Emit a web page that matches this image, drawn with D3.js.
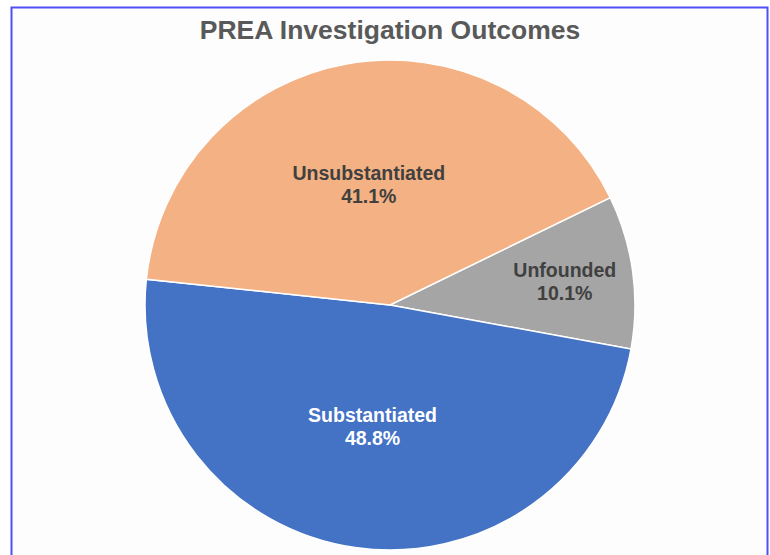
<!DOCTYPE html>
<html>
<head>
<meta charset="utf-8">
<script src="https://cdn.jsdelivr.net/npm/d3@7"></script>
<style>
  body { margin: 0; background: #fff; }
  .chart { width: 770px; height: 555px; }
</style>
</head>
<body>
<div class="chart"></div>
<script>
// PREA investigation outcomes, pie chart

var categories = ["Unfounded", "Substantiated", "Unsubstantiated"];
var values     = [10.1, 48.8, 41.1];
var colors     = ["#A5A5A5", "#4472C4", "#F4B183"];

var width = 770, height = 555;
var cx = 390, cy = 305, radius = 245;

// where each label sits, as a share of the radius
var labelPos = { "Unfounded": 0.72, "Substantiated": 0.5, "Unsubstantiated": 0.5 };
var labelColor = { "Unfounded": "#404040", "Substantiated": "#ffffff", "Unsubstantiated": "#404040" };

var svg = d3.select(".chart").append("svg")
    .attr("width", width)
    .attr("height", height);

// frame
svg.append("rect")
    .attr("x", 11.5).attr("y", 7.5)
    .attr("width", 756).attr("height", 560)
    .attr("fill", "#fdfdfd")
    .attr("stroke", "#4f4ff5")
    .attr("stroke-width", 2);

svg.append("text")
    .attr("x", cx)
    .attr("y", 39)
    .attr("text-anchor", "middle")
    .attr("font-family", "Arial, 'Liberation Sans', sans-serif")
    .attr("font-weight", "bold")
    .attr("font-size", "26.5px")
    .attr("fill", "#595959")
    .text("PREA Investigation Outcomes");

var data = categories.map(function(c, i) { return { name: c, value: values[i], color: colors[i] }; });

var startA = 64 * Math.PI / 180;

var pie = d3.pie()
    .sort(null)
    .value(function(d) { return d.value; })
    .startAngle(startA)
    .endAngle(startA + 2 * Math.PI);

var arc = d3.arc().innerRadius(0).outerRadius(radius);

var g = svg.append("g")
    .attr("transform", "translate(" + cx + "," + cy + ")");

var arcs = pie(data);

g.selectAll(".slice")
    .data(arcs)
    .enter()
    .append("path")
    .attr("class", "slice")
    .attr("d", arc)
    .attr("fill", function(d) { return d.data.color; })
    .attr("stroke", "#ffffff")
    .attr("stroke-width", 1.5);

var labels = g.selectAll(".label")
    .data(arcs)
    .enter()
    .append("text")
    .attr("class", "label")
    .attr("transform", function(d) {
        var r = radius * labelPos[d.data.name];
        var a = (d.startAngle + d.endAngle) / 2;
        return "translate(" + (Math.sin(a) * r) + "," + (-Math.cos(a) * r) + ")";
    })
    .attr("text-anchor", "middle")
    .attr("font-family", "Arial, 'Liberation Sans', sans-serif")
    .attr("font-weight", "bold")
    .attr("font-size", "19.5px")
    .attr("fill", function(d) { return labelColor[d.data.name]; });

labels.append("tspan")
    .attr("x", 0)
    .attr("dy", "-0.2em")
    .text(function(d) { return d.data.name; });

labels.append("tspan")
    .attr("x", 0)
    .attr("dy", "1.15em")
    .text(function(d) { return d.data.value.toFixed(1) + "%"; });
</script>
</body>
</html>
